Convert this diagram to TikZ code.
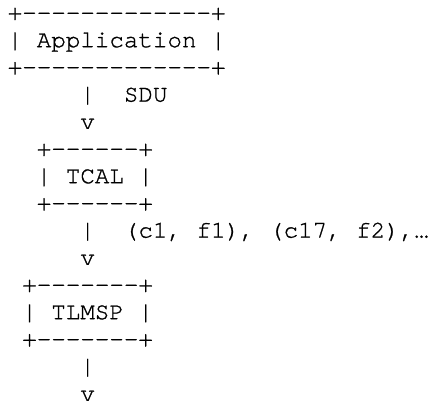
\documentclass[tikz,border=0pt]{standalone}
\usepackage{fontspec}
\setmonofont[FakeBold=1]{TeX Gyre Cursor}
\begin{document}
\begin{tikzpicture}[x=1pt,y=1pt,
  ascii/.style={anchor=base west, inner sep=0pt, outer sep=0pt,
    font=\ttfamily\fontsize{24.2}{27.2}\selectfont}]
  % one character cell is 14.52pt wide, one row is 27.2pt high
  \def\cw{14.52}
  \def\rh{27.2}
  \def\lm{7.75}
  \def\bl{20}
  \useasboundingbox (0,0) rectangle (430,-400);
  % Application box
  \node[ascii] (appTop) at (\lm+0*\cw, -\bl-0*\rh) {+-------------+};
  \node[ascii] (app)    at (\lm+0*\cw, -\bl-1*\rh) {| Application |};
  \node[ascii] (appBot) at (\lm+0*\cw, -\bl-2*\rh) {+-------------+};
  % SDU link
  \node[ascii] (sduBar) at (\lm+5*\cw, -\bl-3*\rh) {|};
  \node[ascii] (sdu)    at (\lm+8*\cw, -\bl-3*\rh) {SDU};
  \node[ascii] (sduTip) at (\lm+5*\cw, -\bl-4*\rh) {v};
  % TCAL box
  \node[ascii] (tcalTop) at (\lm+2*\cw, -\bl-5*\rh) {+------+};
  \node[ascii] (tcal)    at (\lm+2*\cw, -\bl-6*\rh) {| TCAL |};
  \node[ascii] (tcalBot) at (\lm+2*\cw, -\bl-7*\rh) {+------+};
  % container/fragment link
  \node[ascii] (cfBar) at (\lm+5*\cw, -\bl-8*\rh) {|};
  \node[ascii] (cf)    at (\lm+8*\cw, -\bl-8*\rh) {(c1, f1), (c17, f2),…};
  \node[ascii] (cfTip) at (\lm+5*\cw, -\bl-9*\rh) {v};
  % TLMSP box
  \node[ascii] (tlmspTop) at (\lm+1*\cw, -\bl-10*\rh) {+-------+};
  \node[ascii] (tlmsp)    at (\lm+1*\cw, -\bl-11*\rh) {| TLMSP |};
  \node[ascii] (tlmspBot) at (\lm+1*\cw, -\bl-12*\rh) {+-------+};
  % outgoing link
  \node[ascii] (outBar) at (\lm+5*\cw, -\bl-13*\rh) {|};
  \node[ascii] (outTip) at (\lm+5*\cw, -\bl-14*\rh) {v};
\end{tikzpicture}
\end{document}
